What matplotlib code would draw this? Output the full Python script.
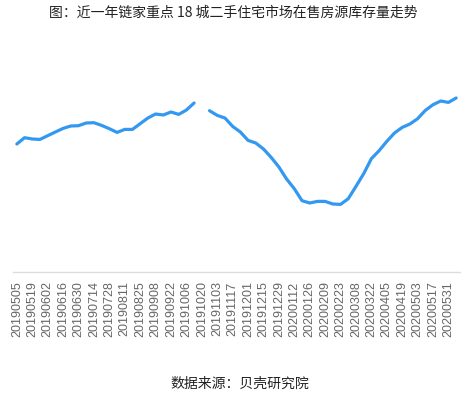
import numpy as np
import pandas as pd
from matplotlib import pyplot as plt

plt.rcParams['font.family'] = ['Noto Sans CJK SC', 'DejaVu Sans']

# weekly dates 20190505 .. 20200607
weeks = pd.date_range('2019-05-05', periods=58, freq='7D').strftime('%Y%m%d').tolist()

# inventory level (relative units), week 20191020 missing
stock_a = [127.7, 134.0, 132.7, 132.3, 136.0, 139.7, 143.3, 145.7, 146.0, 148.7,
           149.0, 146.3, 143.0, 139.3, 142.3, 142.3, 148.0, 153.7, 157.7, 156.7,
           159.7, 157.3, 161.7, 168.7]
stock_b = [161.0, 156.3, 153.7, 145.3, 139.7, 131.3, 128.7, 122.7, 114.3, 104.7,
           92.7, 83.0, 71.0, 68.7, 70.3, 70.3, 67.7, 67.3, 73.0, 85.3,
           98.0, 113.0, 121.0, 130.3, 138.7, 144.3, 147.7, 153.0, 161.3, 167.0,
           170.7, 169.3, 173.7]
stock = stock_a + [np.nan] + stock_b

fig = plt.figure(figsize=(4.66, 3.95), dpi=100)
ax = fig.add_axes([13/466, 1 - 271.7/395, 447/466, 231.7/395])

x = np.arange(len(weeks))
ax.plot(x, stock, color='#3398f0', lw=2.3, solid_capstyle='round', solid_joinstyle='round')

ax.set_xlim(-0.5, len(weeks) - 0.5)
ax.set_ylim(0, 231.7)
ax.set_yticks([])
for s in ['top', 'right', 'left']:
    ax.spines[s].set_visible(False)
ax.spines['bottom'].set_color('#dddddd')
ax.spines['bottom'].set_linewidth(1)

ax.set_xticks(x[::2])
ax.set_xticklabels(weeks[::2][:len(x[::2])], rotation=90, fontsize=9,
                   color='#666666', family=['Liberation Sans', 'DejaVu Sans'])
ax.tick_params(axis='x', length=0, pad=7)

fig.text(0.5, 1 - 13/395, '图：近一年链家重点 18 城二手住宅市场在售房源库存量走势',
         ha='center', va='center', fontsize=10, color='#222222')
fig.text(240/466, 1 - 384/395, '数据来源：贝壳研究院',
         ha='center', va='center', fontsize=10, color='#222222')

fig.savefig('out.png', dpi=100)
